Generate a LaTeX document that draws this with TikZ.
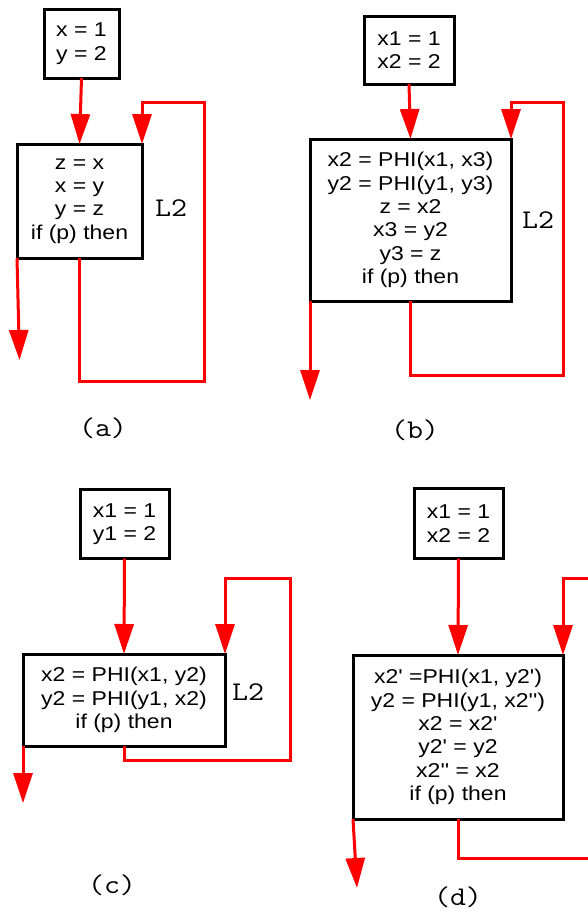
\documentclass[tikz,border=0pt]{standalone}
\usepackage{fontspec}
\usetikzlibrary{arrows.meta}
\newfontfamily\boxfont[FakeStretch=1.15,Ligatures=TeXOff]{Liberation Sans}
\begin{document}
\begin{tikzpicture}[x=1pt,y=-1pt,
  blk/.style={draw=black,line width=3pt,fill=white,inner sep=0pt,outer sep=0pt,align=center,
    font=\boxfont\fontsize{20}{23.4}\selectfont},
  arr/.style={draw=red,line width=3pt,line join=miter,-{Triangle[length=30pt,width=19pt]}},
  lp/.style={draw=red,line width=3pt,line join=miter},
  tag/.style={font=\ttfamily\fontsize{27}{27}\selectfont,inner sep=0pt,xscale=1.15}]
\clip (0,0) rectangle (588,916);
\useasboundingbox (0,0) rectangle (588,916);
% (a)
\node[blk,minimum width=75pt,minimum height=69pt] (ia) at (81.5,43.5) {x = 1\\y = 2};
\node[blk,minimum width=125pt,minimum height=114pt] (ma) at (79.5,201) {z = x\\x = y\\y = z\\if (p) then};
\coordinate (ea) at (19.5,360);
\draw[arr] (ia.south) -- (ma.north);
\draw[arr] (ma.south) -- (ma.south |- 0,381) -- (204,381) -- (204,102) -- (ma.north east |- 0,102) -- (ma.north east);
\draw[arr] (ma.south west) -- (ea);
\node[tag] (la) at (171,208) {L2};
\node[tag] (ca) at (103,428) {(a)};
% (b)
\node[blk,minimum width=90pt,minimum height=68pt] (ib) at (409,50) {x1 = 1\\x2 = 2};
\node[blk,minimum width=201pt,minimum height=162pt] (mb) at (410.5,220) {x2 = PHI(x1, x3)\\y2 = PHI(y1, y3)\\z = x2\\x3 = y2\\y3 = z\\if (p) then};
\coordinate (eb) at (310,400);
\draw[arr] (ib.south) -- (mb.north);
\draw[arr] (mb.south) -- (mb.south |- 0,375) -- (563,375) -- (563,102) -- (mb.north east |- 0,102) -- (mb.north east);
\draw[arr] (mb.south west) -- (eb);
\node[tag] (lb) at (538,220) {L2};
\node[tag] (cb) at (415,430) {(b)};
% (c)
\node[blk,minimum width=89pt,minimum height=69pt] (ic) at (124.5,524) {x1 = 1\\y1 = 2};
\node[blk,minimum width=202pt,minimum height=92pt] (mc) at (124,700) {x2 = PHI(x1, y2)\\y2 = PHI(y1, x2)\\if (p) then};
\coordinate (ec) at (23,803);
\draw[arr] (ic.south) -- (mc.north);
\draw[arr] (mc.south) -- (mc.south |- 0,760) -- (290,760) -- (290,578) -- (mc.north east |- 0,578) -- (mc.north east);
\draw[arr] (mc.south west) -- (ec);
\node[tag] (lc) at (248,692) {L2};
\node[tag] (cc) at (112,885) {(c)};
% (d)
\node[blk,minimum width=89pt,minimum height=70pt] (id) at (458.5,523.5) {x1 = 1\\x2 = 2};
\node[blk,minimum width=210pt,minimum height=164pt] (md) at (458,737) {x2' =PHI(x1, y2')\\y2 = PHI(y1, x2'')\\x2 = x2'\\y2' = y2\\x2'' = x2\\if (p) then};
\coordinate (ed) at (357,888);
\coordinate (od) at (600,858);
\coordinate (rd) at (600,578);
\draw[arr] (id.south) -- (md.north);
\draw[lp] (md.south) -- (md.south |- od) -- (od);
\draw[arr] (rd) -- (md.north east |- rd) -- (md.north east);
\draw[arr] (md.south west) -- (ed);
\node[tag] (cd) at (458,897) {(d)};
\end{tikzpicture}
\end{document}
